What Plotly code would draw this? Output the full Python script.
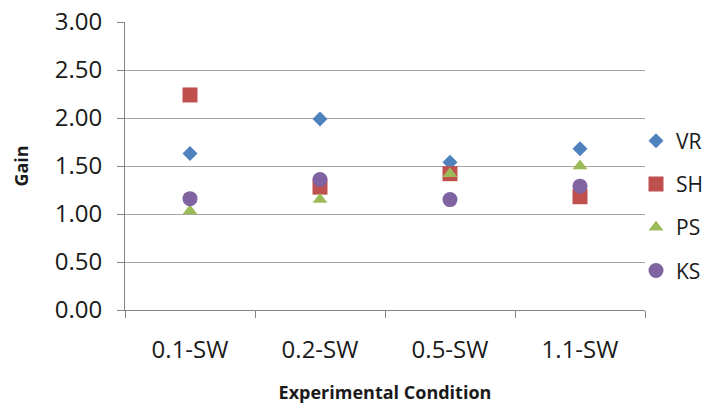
import plotly.graph_objects as go

categories = ["0.1-SW", "0.2-SW", "0.5-SW", "1.1-SW"]
series_names = ["VR", "SH", "PS", "KS"]
vr = [1.63, 1.99, 1.54, 1.68]
sh = [2.24, 1.28, 1.42, 1.18]
ps = [1.03, 1.15, 1.42, 1.50]
ks = [1.16, 1.36, 1.15, 1.29]
y_ticks = [0, 0.5, 1.0, 1.5, 2.0, 2.5, 3.0]

values = [vr, sh, ps, ks]
colors = ["#4F81BD", "#C0504D", "#9BBB59", "#8064A2"]
symbols = ["diamond", "square", "triangle-up", "circle"]
sizes = [11.5, 15, 13, 15]

FONT = "Open Sans"

fig = go.Figure()
for name, vals, c, s, sz in zip(series_names, values, colors, symbols, sizes):
    fig.add_trace(go.Scatter(
        x=categories, y=vals, mode="markers", name=name,
        legendgroup=name,
        marker=dict(color=c, symbol=s, size=sz, line=dict(width=0)),
    ))

fig.update_layout(
    width=710, height=411,
    margin=dict(l=125, r=65, t=22, b=101, autoexpand=False),
    paper_bgcolor="white", plot_bgcolor="white",
    font=dict(family=FONT, color="#1a1a1a"),
    showlegend=True,
    legend=dict(
        x=(636 - 125) / 520, xanchor="left",
        y=(310 - 206) / 288, yanchor="middle",
        font=dict(size=21, family=FONT, color="#1a1a1a"),
        traceorder="grouped", tracegroupgap=13,
        bgcolor="rgba(0,0,0,0)",
        itemwidth=30,
    ),
)

fig.update_xaxes(
    type="category", categoryorder="array", categoryarray=categories,
    range=[-0.5, 3.5], automargin=False,
    showgrid=False, zeroline=False,
    showline=True, linecolor="#868686", linewidth=1,
    ticks="outside", ticklen=7, tickcolor="#868686", tickson="boundaries",
    tickfont=dict(size=24, family=FONT, color="#1a1a1a"),
    ticklabelstandoff=18,
    title=dict(text="<b>Experimental Condition</b>", font=dict(size=18, family=FONT, color="#1a1a1a"), standoff=22),
)
fig.update_yaxes(
    range=[0, 3], tickvals=y_ticks, tickformat=".2f", automargin=False,
    showgrid=True, gridcolor="#a6a6a6", gridwidth=1,
    zeroline=False,
    showline=True, linecolor="#868686", linewidth=1,
    ticks="outside", ticklen=7, tickcolor="#868686",
    tickfont=dict(size=24, family=FONT, color="#1a1a1a"),
    ticklabelstandoff=10,
    title=dict(text="<b>Gain</b>", font=dict(size=18, family=FONT, color="#1a1a1a"), standoff=21),
)

fig.write_html("out.html")
